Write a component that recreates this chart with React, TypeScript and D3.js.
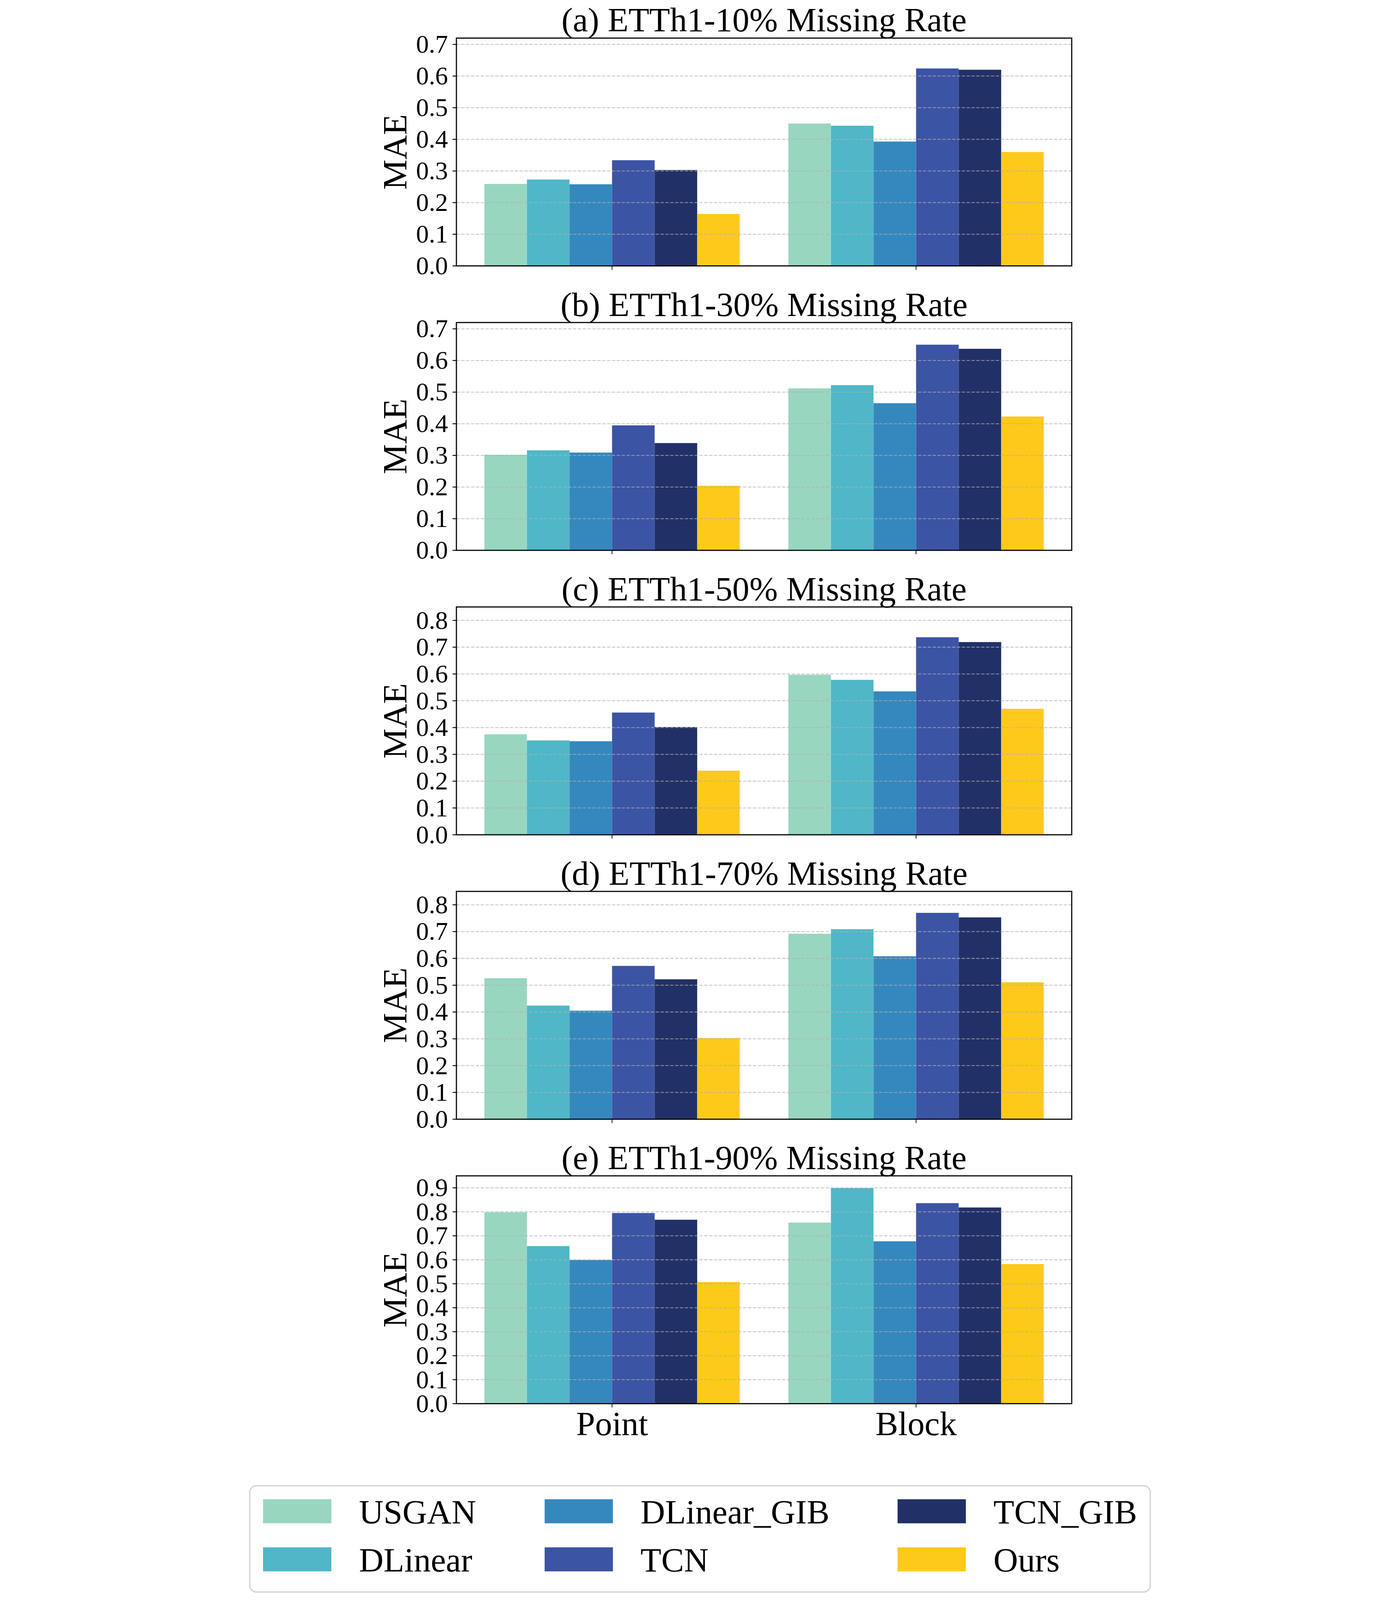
import React from "react";
import * as d3 from "d3";

const categories = ["Point", "Block"];
const methods = ["USGAN", "DLinear", "DLinear_GIB", "TCN", "TCN_GIB", "Ours"];
const colors = ["#98d6c0", "#4fb7c8", "#3588bd", "#3c54a4", "#213167", "#fdc91b"];
const panelTitles = [
  "(a) ETTh1-10% Missing Rate",
  "(b) ETTh1-30% Missing Rate",
  "(c) ETTh1-50% Missing Rate",
  "(d) ETTh1-70% Missing Rate",
  "(e) ETTh1-90% Missing Rate",
];
const yMax = [0.72, 0.72, 0.85, 0.85, 0.95];
const yTickMax = [0.7, 0.7, 0.8, 0.8, 0.9];

// values per panel: [Point[6], Block[6]] in method order
const mae10 = [
  [0.259, 0.273, 0.258, 0.334, 0.303, 0.164],
  [0.45, 0.443, 0.393, 0.624, 0.62, 0.36],
];
const mae30 = [
  [0.302, 0.316, 0.309, 0.395, 0.339, 0.204],
  [0.512, 0.522, 0.465, 0.65, 0.637, 0.423],
];
const mae50 = [
  [0.375, 0.352, 0.349, 0.456, 0.402, 0.239],
  [0.597, 0.578, 0.535, 0.737, 0.719, 0.47],
];
const mae70 = [
  [0.526, 0.424, 0.405, 0.572, 0.522, 0.303],
  [0.692, 0.709, 0.608, 0.77, 0.753, 0.511],
];
const mae90 = [
  [0.798, 0.657, 0.599, 0.795, 0.767, 0.507],
  [0.755, 0.899, 0.677, 0.836, 0.818, 0.582],
];
const panelData = [mae10, mae30, mae50, mae70, mae90];

const W = 3583;
const H = 6258;
const FONT = "'Liberation Serif', 'Times New Roman', serif";
const plotLeft = 839;
const plotRight = 3245;
const firstTop = 149;
const panelStep = 1112.5;
const panelH = 891;
const barW = 0.14;

function Panel({ idx }: { idx: number }) {
  const top = firstTop + idx * panelStep;
  const bottom = top + panelH;
  const x = d3.scaleLinear().domain([-0.512, 1.512]).range([plotLeft, plotRight]);
  const y = d3.scaleLinear().domain([0, yMax[idx]]).range([bottom, top]);
  const ticks = d3.range(0, Math.round(yTickMax[idx] * 10) + 1).map((k) => k / 10);
  const data = panelData[idx];
  const isLast = idx === panelData.length - 1;
  return (
    <g>
      {data.map((vals, ci) =>
        vals.map((v, mi) => {
          const cx = ci + (mi - 2.5) * barW;
          const x0 = x(cx - barW / 2);
          const x1 = x(cx + barW / 2);
          return (
            <rect
              key={`${ci}-${mi}`}
              x={x0}
              y={y(v)}
              width={x1 - x0}
              height={y(0) - y(v)}
              fill={colors[mi]}
            />
          );
        })
      )}
      {ticks.map((t) => (
        <line
          key={`g${t}`}
          x1={plotLeft}
          x2={plotRight}
          y1={y(t)}
          y2={y(t)}
          stroke="#b0b0b0"
          strokeOpacity={0.7}
          strokeWidth={3.5}
          strokeDasharray="13,6"
        />
      ))}
      {ticks.map((t) => (
        <g key={`t${t}`}>
          <line x1={plotLeft - 15} x2={plotLeft} y1={y(t)} y2={y(t)} stroke="#000" strokeWidth={3.5} />
          <text
            x={806}
            y={y(t)}
            dy="0.33em"
            textAnchor="end"
            fontFamily={FONT}
            fontSize={100}
            fill="#000"
          >
            {t.toFixed(1)}
          </text>
        </g>
      ))}
      {categories.map((c, ci) => (
        <g key={c}>
          <line x1={x(ci)} x2={x(ci)} y1={bottom} y2={bottom + 15} stroke="#000" strokeWidth={2.8} />
          {isLast && (
            <text
              x={x(ci)}
              y={bottom + 123}
              textAnchor="middle"
              fontFamily={FONT}
              fontSize={133}
              fill="#000"
            >
              {c}
            </text>
          )}
        </g>
      ))}
      <rect
        x={plotLeft}
        y={top}
        width={plotRight - plotLeft}
        height={panelH}
        fill="none"
        stroke="#000"
        strokeWidth={4.4}
      />
      <text
        x={(plotLeft + plotRight) / 2}
        y={top - 26}
        textAnchor="middle"
        fontFamily={FONT}
        fontSize={133}
        fill="#000"
      >
        {panelTitles[idx]}
      </text>
      <text
        transform={`translate(643, ${(top + bottom) / 2}) rotate(-90)`}
        textAnchor="middle"
        fontFamily={FONT}
        fontSize={133}
        fill="#000"
      >
        MAE
      </text>
    </g>
  );
}

function Legend() {
  const colX = [83, 1184, 2564];
  const rowTop = [5864, 6052];
  const patchW = 267;
  const patchH = 94;
  return (
    <g>
      <rect
        x={31}
        y={5811}
        width={3552 - 31}
        height={6227 - 5811}
        rx={26}
        ry={26}
        fill="#fff"
        stroke="#d4d4d4"
        strokeWidth={5}
      />
      {methods.map((m, i) => {
        const col = Math.floor(i / 2);
        const row = i % 2;
        return (
          <g key={m}>
            <rect x={colX[col]} y={rowTop[row]} width={patchW} height={patchH} fill={colors[i]} />
            <text
              x={colX[col] + patchW + 108}
              y={rowTop[row] + patchH}
              fontFamily={FONT}
              fontSize={133}
              fill="#000"
            >
              {m}
            </text>
          </g>
        );
      })}
    </g>
  );
}

export default function App() {
  return (
    <div style={{ width: "100vw", height: "100vh", overflow: "hidden", background: "#fff" }}>
      <style>{"html,body{margin:0;padding:0;background:#fff;overflow:hidden;}"}</style>
      <svg
        viewBox={`0 0 ${W} ${H}`}
        preserveAspectRatio="xMidYMid meet"
        style={{ display: "block", width: "100vw", height: "100vh", background: "#fff" }}
      >
        <rect x={0} y={0} width={W} height={H} fill="#fff" />
        {panelData.map((_, i) => (
          <Panel key={i} idx={i} />
        ))}
        <Legend />
      </svg>
    </div>
  );
}
